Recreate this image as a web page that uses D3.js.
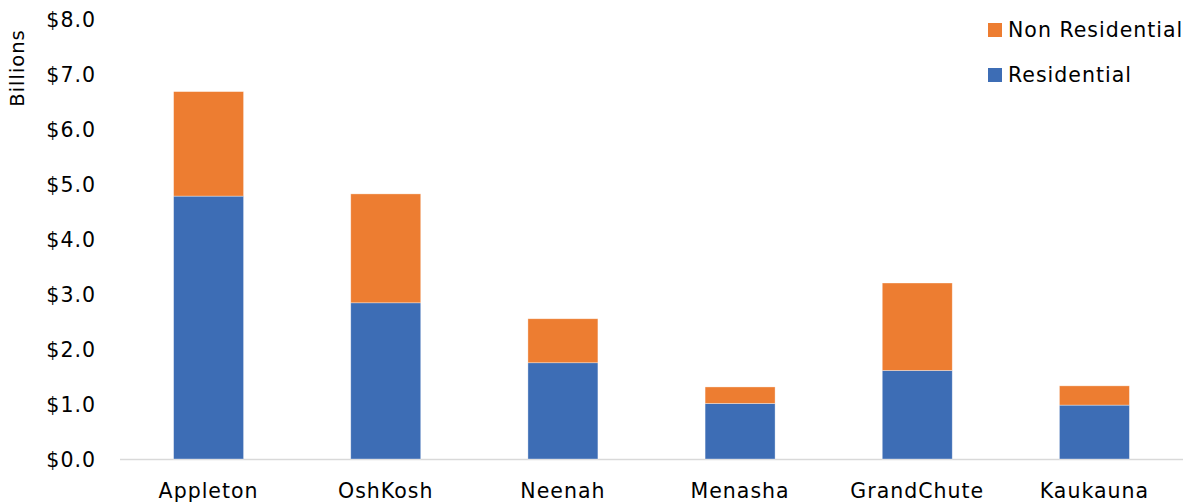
<!DOCTYPE html>
<html><head><meta charset="utf-8">
<script src="https://cdn.jsdelivr.net/npm/d3@7"></script>
<style>body{margin:0;background:#fff}svg{display:block}text{font-family:"DejaVu Sans",sans-serif;fill:#000;letter-spacing:1px}</style>
</head><body><svg id="c" width="1192" height="504"></svg>
<script>
const categories = ["Appleton","OshKosh","Neenah","Menasha","GrandChute","Kaukauna"];
const residential = [4.78, 2.84, 1.75, 1.01, 1.61, 0.98];
const nonResidential = [1.90, 1.98, 0.80, 0.30, 1.59, 0.35];
const seriesNames = ["Residential","Non Residential"];
const seriesColors = ["#3D6DB5","#ED7D31"];
const yTicks = [0,1,2,3,4,5,6,7,8];

(function(){
const FONT = '"DejaVu Sans",sans-serif';
const svg = d3.select("#c");
const mLeft = 120, mRight = 1183, mTop = 19, mBottom = 459;
const x = d3.scaleBand().domain(categories).range([mLeft, mRight]).paddingInner(0.605).paddingOuter(0.3025);
const y = d3.scaleLinear().domain([0, 8]).range([mBottom, mTop]);

const rows = categories.map((c,i)=>({cat:c, "Residential":residential[i], "Non Residential":nonResidential[i]}));
const stack = d3.stack().keys(seriesNames)(rows);

svg.append("line").attr("x1",mLeft).attr("x2",mRight).attr("y1",y(0)+0.5).attr("y2",y(0)+0.5)
  .attr("stroke","#d9d9d9").attr("stroke-width",1.5);

stack.forEach((s,si)=>{
  svg.append("g").selectAll("rect").data(s).join("rect")
    .attr("x", d=>x(d.data.cat)).attr("width", x.bandwidth())
    .attr("y", d=>y(d[1])).attr("height", d=>y(d[0])-y(d[1]))
    .attr("fill", seriesColors[si]).attr("stroke","rgba(255,255,255,0.5)").attr("stroke-width",0.7);
});

const yAxis = d3.axisLeft(y).tickValues(yTicks).tickFormat(d=>"$"+d3.format(".1f")(d)).tickSize(0).tickPadding(0);
const ga = svg.append("g").attr("transform",`translate(96,0)`).call(yAxis);
ga.select(".domain").remove();
ga.selectAll("text").style("font-size","20.5px").attr("dy","0.38em").style("font-family",FONT).attr("fill","#000");

const xAxis = d3.axisBottom(x).tickSize(0).tickPadding(0);
const gx = svg.append("g").attr("transform",`translate(0,${mBottom})`).call(xAxis);
gx.select(".domain").remove();
gx.selectAll("text").style("font-size","20.5px").attr("y",39).attr("dy","0").style("font-family",FONT).attr("fill","#000");

svg.append("text").attr("transform","translate(24,68) rotate(-90)").attr("text-anchor","middle")
  .style("font-size","19.5px").text("Billions");

const legend = [{name:"Non Residential",color:seriesColors[1],y:30},{name:"Residential",color:seriesColors[0],y:75}];
const lg = svg.append("g");
legend.forEach(l=>{
  lg.append("rect").attr("x",988).attr("y",l.y-7).attr("width",14).attr("height",14).attr("fill",l.color);
  lg.append("text").attr("x",1008).attr("y",l.y).attr("dy","0.36em").style("font-size","20.5px").text(l.name);
});
})();
</script></body></html>
